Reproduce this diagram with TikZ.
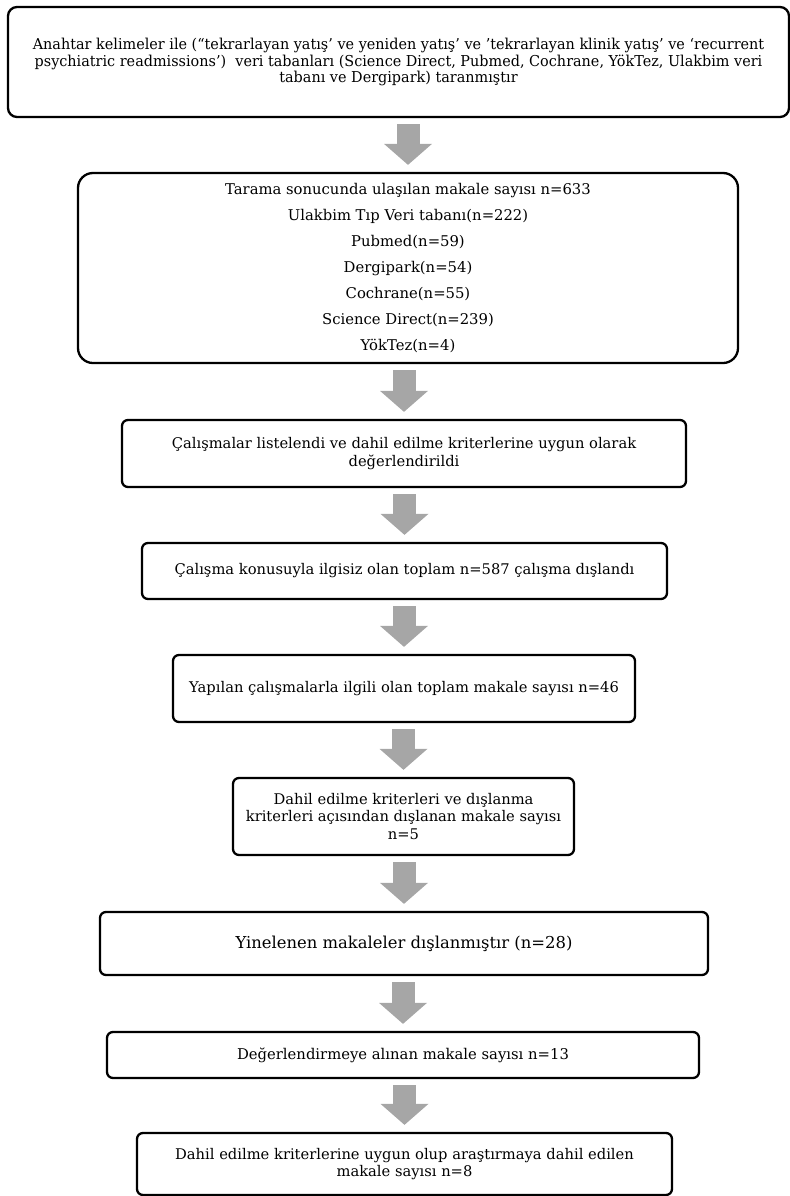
\documentclass[tikz,border=0pt]{standalone}
\usepackage{fontspec}
\setmainfont{DejaVu Serif}
\newfontfamily\bodyf{DejaVu Serif}
\newfontfamily\condf[FakeStretch=0.96]{DejaVu Serif}
\usetikzlibrary{arrows.meta,calc}
\definecolor{arrowgray}{HTML}{A6A6A6}
\tikzset{
  box/.style={draw=black, line width=2.3bp, rounded corners=6bp, align=center,
    inner sep=0pt, fill=white, font=\bodyf\fontsize{14.7bp}{17.5bp}\selectfont},
  flowarrow/.style={draw=arrowgray, line width=23bp,
    -{Triangle[width=48bp,length=21bp,line width=0pt]}},
}
\begin{document}
\begin{tikzpicture}[x=1bp,y=-1bp]
\useasboundingbox (0,0) rectangle (790,1196);
\node[box, rounded corners=9bp, minimum width=781bp, minimum height=110bp,
  font=\condf\fontsize{15bp}{16.5bp}\selectfont] (b1) at (398.5,62)
  {Anahtar kelimeler ile (“tekrarlayan yatış’ ve yeniden yatış’ ve ’tekrarlayan klinik yatış’ ve ‘recurrent\\
   psychiatric readmissions’)\ \ veri tabanları (Science Direct, Pubmed, Cochrane, YökTez, Ulakbim veri\\
   tabanı ve Dergipark) taranmıştır};
\node[box, rounded corners=15bp, minimum width=660bp, minimum height=190bp,
  font=\bodyf\fontsize{14.8bp}{26.1bp}\selectfont] (b2) at (408,268)
  {Tarama sonucunda ulaşılan makale sayısı n=633\\
   Ulakbim Tıp Veri tabanı(n=222)\\
   Pubmed(n=59)\\
   Dergipark(n=54)\\
   Cochrane(n=55)\\
   Science Direct(n=239)\\
   YökTez(n=4)};
\node[box, minimum width=564bp, minimum height=67bp] (b3) at (404,453.5)
  {Çalışmalar listelendi ve dahil edilme kriterlerine uygun olarak\\değerlendirildi};
\node[box, minimum width=525bp, minimum height=56bp] (b4) at (404.5,571)
  {Çalışma konusuyla ilgisiz olan toplam n=587 çalışma dışlandı};
\node[box, minimum width=462bp, minimum height=67bp] (b5) at (404,688.5)
  {Yapılan çalışmalarla ilgili olan toplam makale sayısı n=46};
\node[box, minimum width=341bp, minimum height=77bp] (b6) at (403.5,816.5)
  {Dahil edilme kriterleri ve dışlanma\\kriterleri açısından dışlanan makale sayısı\\n=5};
\node[box, minimum width=608bp, minimum height=63bp,
  font=\bodyf\fontsize{16.4bp}{19bp}\selectfont] (b7) at (404,943.5)
  {Yinelenen makaleler dışlanmıştır (n=28)};
\node[box, minimum width=592bp, minimum height=46bp,
  font=\bodyf\fontsize{14.8bp}{18bp}\selectfont] (b8) at (403,1055)
  {Değerlendirmeye alınan makale sayısı n=13};
\node[box, minimum width=535bp, minimum height=62bp] (b9) at (404.5,1164)
  {Dahil edilme kriterlerine uygun olup araştırmaya dahil edilen\\makale sayısı n=8};
\draw[flowarrow] ($(b1.south -| b2.north)+(0,6)$) -- ($(b2.north)+(0,-7)$);
\draw[flowarrow] ($(b2.south -| b3.north)+(0,6)$) -- ($(b3.north)+(0,-7)$);
\draw[flowarrow] ($(b3.south -| b4.north)+(0,6)$) -- ($(b4.north)+(0,-7)$);
\draw[flowarrow] ($(b4.south -| b5.north)+(0,6)$) -- ($(b5.north)+(0,-7)$);
\draw[flowarrow] ($(b5.south -| b6.north)+(0,6)$) -- ($(b6.north)+(0,-7)$);
\draw[flowarrow] ($(b6.south -| b7.north)+(0,6)$) -- ($(b7.north)+(0,-7)$);
\draw[flowarrow] ($(b7.south -| b8.north)+(0,6)$) -- ($(b8.north)+(0,-7)$);
\draw[flowarrow] ($(b8.south -| b9.north)+(0,6)$) -- ($(b9.north)+(0,-7)$);
\end{tikzpicture}
\end{document}
